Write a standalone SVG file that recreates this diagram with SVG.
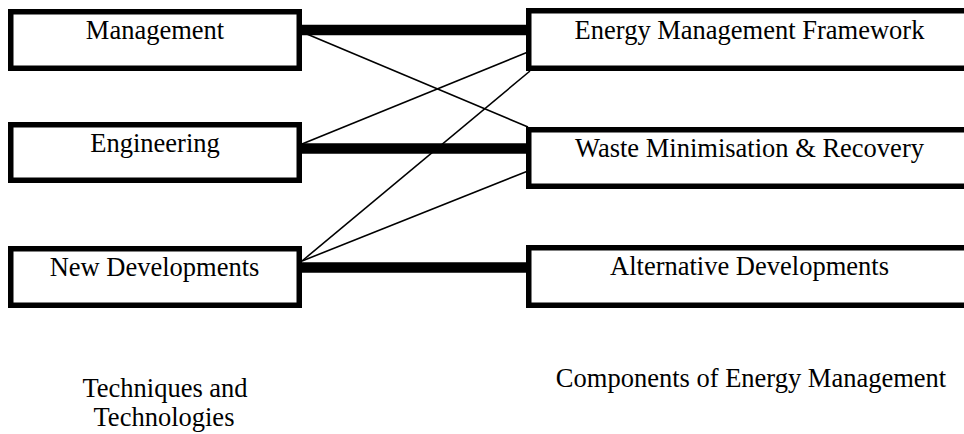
<svg xmlns="http://www.w3.org/2000/svg" width="964" height="434" viewBox="0 0 964 434">
<style>
.box{fill:#fff;stroke:#000;stroke-width:5.5}
.lbl{font-family:"Liberation Serif","Times New Roman",serif;font-size:26.5px;fill:#000;text-anchor:middle}
.thick{stroke:#000;stroke-width:10.5;fill:none}
.thin{stroke:#000;stroke-width:1.6;fill:none}
</style>
<rect x="0" y="0" width="964" height="434" fill="#fff"/>
<g id="connectors">
<line class="thick" x1="302" y1="30" x2="528" y2="30"/>
<line class="thick" x1="302" y1="148.5" x2="528" y2="148.5"/>
<line class="thick" x1="302" y1="267.5" x2="528" y2="267.5"/>
<line class="thin" x1="302" y1="32" x2="528" y2="127"/>
<line class="thin" x1="302" y1="144" x2="528" y2="52"/>
<line class="thin" x1="302" y1="261" x2="530" y2="71"/>
<line class="thin" x1="302" y1="261" x2="528" y2="171"/>
</g>
<g id="management">
<rect class="box" x="10.75" y="11.75" width="288.5" height="56.5"/>
<text class="lbl" x="155" y="39">Management</text>
</g>
<g id="engineering">
<rect class="box" x="10.75" y="124.75" width="288.5" height="55.5"/>
<text class="lbl" x="155" y="152">Engineering</text>
</g>
<g id="new-developments">
<rect class="box" x="10.75" y="248.75" width="288.5" height="56.5"/>
<text class="lbl" x="154.5" y="276">New Developments</text>
</g>
<g id="energy-management-framework">
<rect class="box" x="528.75" y="10.75" width="443" height="57.5"/>
<text class="lbl" x="749.5" y="39">Energy Management Framework</text>
</g>
<g id="waste-minimisation">
<rect class="box" x="528.75" y="129.75" width="443" height="56.5"/>
<text class="lbl" x="749.5" y="157">Waste Minimisation &amp; Recovery</text>
</g>
<g id="alternative-developments">
<rect class="box" x="528.75" y="247.75" width="443" height="57.5"/>
<text class="lbl" x="749.5" y="275">Alternative Developments</text>
</g>
<g id="caption-left">
<text class="lbl" x="165" y="397">Techniques and</text>
<text class="lbl" x="164" y="426">Technologies</text>
</g>
<g id="caption-right">
<text class="lbl" x="751" y="387">Components of Energy Management</text>
</g>
</svg>
